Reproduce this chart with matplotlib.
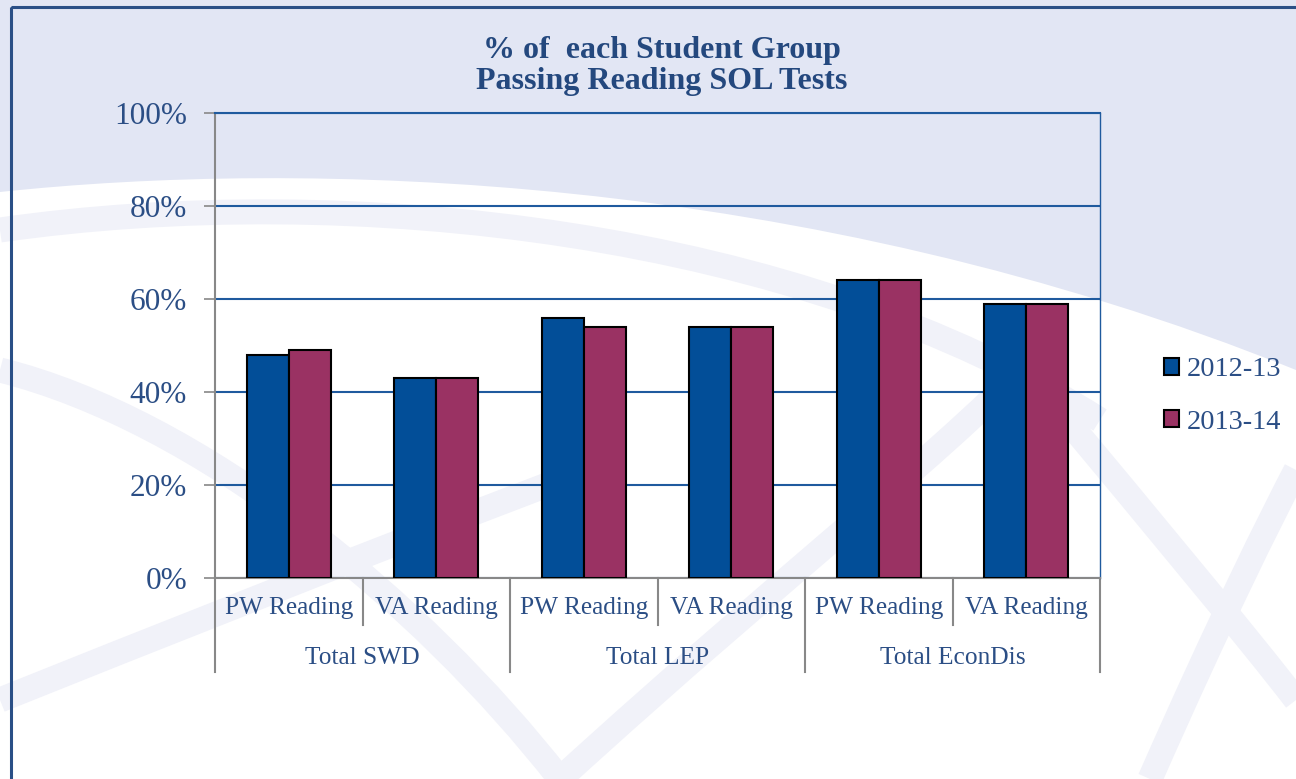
import numpy as np
import matplotlib
matplotlib.use("Agg")
import matplotlib.pyplot as plt
from matplotlib.path import Path
from matplotlib.patches import PathPatch, Rectangle
from matplotlib.transforms import blended_transform_factory

# data
subcats = ["PW Reading", "VA Reading"] * 3
groups = ["Total SWD", "Total LEP", "Total EconDis"]
years = ["2012-13", "2013-14"]
pass_1213 = [48, 43, 56, 54, 64, 59]
pass_1314 = [49, 43, 54, 54, 64, 59]
yticks = [0, 20, 40, 60, 80, 100]

blue = "#024E98"
plum = "#9A3263"
txt = "#2B4E85"
grid_c = "#1F5A9E"
lav = "#E2E6F4"
faint = "#F1F2F9"

plt.rcParams["font.family"] = ["Liberation Serif", "DejaVu Serif"]

fig = plt.figure(figsize=(12.96, 7.79), dpi=100)
fig.patch.set_facecolor("white")

# background watermark
bg = fig.add_axes([0, 0, 1, 1], zorder=-5)
bg.set_xlim(0, 1296)
bg.set_ylim(779, 0)
bg.axis("off")
verts = [(0, 0), (0, 192), (300, 160), (800, 170), (1296, 370), (1296, 0), (0, 0)]
codes = [Path.MOVETO, Path.LINETO, Path.CURVE4, Path.CURVE4, Path.CURVE4, Path.LINETO, Path.CLOSEPOLY]
bg.add_patch(PathPatch(Path(verts, codes), facecolor=lav, edgecolor="none"))
for v in ([(0, 230), (350, 180), (800, 230), (1100, 420)],
          [(0, 370), (200, 420), (420, 600), (560, 779)],
          [(0, 700), (150, 640), (350, 560), (560, 480)],
          [(560, 779), (800, 560), (950, 450), (1060, 330)],
          [(1050, 400), (1150, 520), (1250, 640), (1296, 700)],
          [(1150, 779), (1220, 620), (1270, 520), (1296, 470)]):
    p = Path(v, [Path.MOVETO, Path.CURVE4, Path.CURVE4, Path.CURVE4])
    bg.add_patch(PathPatch(p, facecolor="none", edgecolor=faint, lw=18, capstyle="butt"))
bg.add_patch(Rectangle((11, 7), 1400, 900, fill=False, edgecolor="#2A4F86", lw=2.2))

ax = fig.add_axes([215 / 1296, 1 - 578 / 779, 885 / 1296, 465 / 779])
ax.patch.set_alpha(0)
x = np.arange(len(subcats))
w = 0.285
ax.bar(x - w / 2, pass_1213, w, color=blue, edgecolor="black", lw=1.5, label=years[0], zorder=3)
ax.bar(x + w / 2, pass_1314, w, color=plum, edgecolor="black", lw=1.5, label=years[1], zorder=3)

ax.set_xlim(-0.5, 5.5)
ax.set_ylim(0, 100)
ax.set_yticks(yticks)
ax.set_yticklabels([f"{v}%" for v in yticks], fontsize=22.5, color=txt)
ax.tick_params(axis="y", length=8, width=1.2, color="#888888", pad=12)
ax.set_xticks([])
ax.yaxis.grid(True, color=grid_c, lw=1.5, zorder=1)
ax.set_axisbelow(True)
for s in ["left", "bottom"]:
    ax.spines[s].set_color("#888888")
    ax.spines[s].set_linewidth(1.5)
ax.spines["top"].set_color(grid_c)
ax.spines["top"].set_linewidth(1.5)
ax.spines["right"].set_color(grid_c)
ax.spines["right"].set_linewidth(1)
ax.spines["right"].set_linestyle((0, (1, 1)))

# two-level category axis
tr = blended_transform_factory(ax.transData, ax.transAxes)
for i, lab in enumerate(subcats):
    ax.text(i, -0.064, lab, transform=tr, ha="center", va="center", fontsize=18.3, color=txt)
for i in range(1, len(subcats)):
    bottom = -0.202 if i % 2 == 0 else -0.101
    ax.plot([i - 0.5, i - 0.5], [0, bottom], transform=tr, color="#888888", lw=1.5, clip_on=False)
for k in (-0.5, 5.5):
    ax.plot([k, k], [0, -0.202], transform=tr, color="#888888", lw=1.5, clip_on=False)
for j, g in enumerate(groups):
    ax.text(2 * j + 0.5, -0.172, g, transform=tr, ha="center", va="center", fontsize=18.3, color=txt)

fig.text(0.5105, 1 - 66 / 779, "% of  each Student Group\nPassing Reading SOL Tests", ha="center", va="center",
         fontsize=23, fontweight="bold", color="#24487E", linespacing=1.1)

leg = fig.legend(loc="center left", bbox_to_anchor=(1138 / 1296, 1 - 396 / 779), frameon=False,
                 prop={"size": 20.5}, handlelength=0.55, handleheight=0.55, handletextpad=0.25,
                 labelspacing=0.95, labelcolor=txt)

fig.savefig("out.png", dpi=100)
